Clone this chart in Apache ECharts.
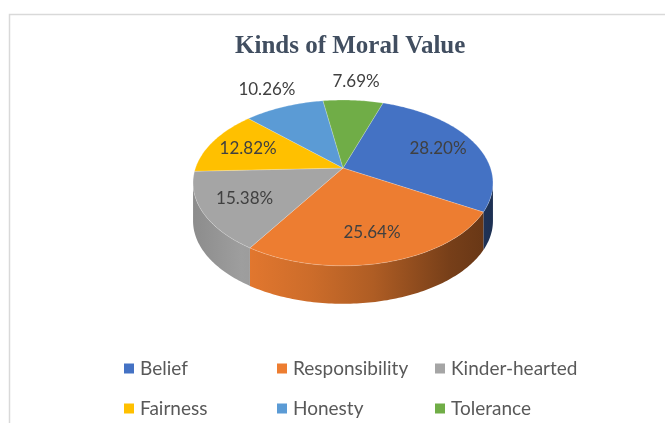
<!DOCTYPE html>
<html>
<head>
<meta charset="utf-8">
<script src="https://cdn.jsdelivr.net/npm/echarts@6/dist/echarts.min.js"></script>
<style>
html,body{margin:0;padding:0;background:#fff;}
#chart{width:665px;height:423px;}
</style>
</head>
<body>
<div id="chart"></div>
<script>
// ---- data ----
const categories = ['Belief', 'Responsibility', 'Kinder-hearted', 'Fairness', 'Honesty', 'Tolerance'];
const percentValues = [28.20, 25.64, 15.38, 12.82, 10.26, 7.69];
const sliceColors = ['#4472C4', '#ED7D31', '#A5A5A5', '#FFC000', '#5B9BD5', '#70AD47'];
const legendColumns = [['Belief', 'Fairness'], ['Responsibility', 'Honesty'], ['Kinder-hearted', 'Tolerance']];
const titleText = 'Kinds of Moral Value';

// ---- 3D pie geometry (perspective projection of a tilted disc) ----
const CX = 343, CY = 168;       // projected disc centre
const AX = 147.5, BY = 80.2;    // horizontal / vertical scale
const K = 0.18;                 // perspective strength
const DEPTH = 38;               // wall height
const START = 18.5 * Math.PI / 180;

function proj(a, r) {
  const u = r * Math.sin(a), v = r * Math.cos(a);
  const w = 1 + K * v;
  return [CX + AX * u / w, CY - BY * v / w];
}

const total = percentValues.reduce((s, v) => s + v, 0);
const angles = [];
let acc = START;
percentValues.forEach(v => {
  const a0 = acc, a1 = acc + v / total * Math.PI * 2;
  angles.push([a0, a1]);
  acc = a1;
});

function hexToRgb(h) {
  const n = parseInt(h.slice(1), 16);
  return [(n >> 16) & 255, (n >> 8) & 255, n & 255];
}
function shade(h, f) {
  const c = hexToRgb(h).map(x => Math.max(0, Math.min(255, Math.round(x * f))));
  return 'rgb(' + c.join(',') + ')';
}
const wallStops = [[0, 0.84], [0.17, 0.96], [0.4, 0.86], [0.6, 0.74], [0.85, 0.5], [1, 0.42]];

const visR = Math.acos(-K), visL = Math.PI * 2 - Math.acos(-K);

function arcPoints(a0, a1, r, dy) {
  const pts = [];
  const n = Math.max(2, Math.ceil((a1 - a0) / (Math.PI / 180)));
  for (let i = 0; i <= n; i++) {
    const a = a0 + (a1 - a0) * i / n;
    const p = proj(a, r);
    pts.push([p[0], p[1] + dy]);
  }
  return pts;
}

function makeRender(idx) {
  return function (params, api) {
    const [a0, a1] = angles[idx];
    const color = sliceColors[idx];
    const children = [];
    // wall (front visible part)
    [0, Math.PI * 2].forEach(off => {
      const b0 = Math.max(a0, visR + off), b1 = Math.min(a1, visL + off);
      if (b1 > b0) {
        const top = arcPoints(b0, b1, 1, 0);
        const bot = arcPoints(b0, b1, 1, DEPTH).reverse();
        children.push({
          type: 'polygon',
          z2: 1,
          shape: { points: top.concat(bot) },
          style: {
            fill: new echarts.graphic.LinearGradient(190, 0, 495, 0,
              wallStops.map(s => ({ offset: s[0], color: shade(color, s[1]) })), true),
            stroke: null
          }
        });
      }
    });
    // top face
    const c = proj(0, 0);
    children.push({
      type: 'polygon',
      z2: 10,
      shape: { points: [c].concat(arcPoints(a0, a1, 1, 0)) },
      style: { fill: color, stroke: 'rgba(255,255,255,0.35)', lineWidth: 0.6 }
    });
    // label
    const mid = (a0 + a1) / 2;
    const r = percentValues[idx] < 11 ? 1.35 : 0.72;
    const lp = proj(mid, r);
    children.push({
      type: 'text',
      z2: 20,
      style: {
        text: percentValues[idx].toFixed(2) + '%',
        x: lp[0], y: lp[1],
        align: 'center', verticalAlign: 'middle',
        textAlign: 'center', textVerticalAlign: 'middle',
        fill: '#404040',
        fontSize: 17,
        fontFamily: 'Lato'
      }
    });
    return { type: 'group', children: children };
  };
}

const series = categories.map((name, i) => ({
  type: 'custom',
  name: name,
  coordinateSystem: 'none',
  renderItem: makeRender(i),
  itemStyle: { color: sliceColors[i] },
  data: [[percentValues[i]]],
  silent: true
}));

const legendLefts = [119, 272, 430];
const legendTops = [354, 394];
const legends = [];
legendColumns.forEach((col, j) => {
  col.forEach((name, r) => {
    legends.push({
      orient: 'horizontal',
      left: legendLefts[j],
      top: legendTops[r],
      data: [name],
      icon: 'rect',
      itemWidth: 10,
      itemHeight: 10,
      selectedMode: false,
      textStyle: { color: '#595959', fontSize: 19, fontFamily: 'Lato', padding: [0, 0, 0, 1] }
    });
  });
});

const chart = echarts.init(document.getElementById('chart'), null, { renderer: 'canvas' });
chart.setOption({
  animation: false,
  backgroundColor: '#ffffff',
  title: {
    text: titleText,
    left: 230,
    top: 29,
    textStyle: { fontFamily: 'Liberation Serif', fontWeight: 'bold', fontSize: 25, color: '#414E60' }
  },
  graphic: [{
    type: 'rect',
    shape: { x: 9.5, y: 14.5, width: 700, height: 500 },
    style: { fill: null, stroke: '#d9d9d9', lineWidth: 1.5 },
    silent: true
  }],
  legend: legends,
  series: series
});
</script>
</body>
</html>
